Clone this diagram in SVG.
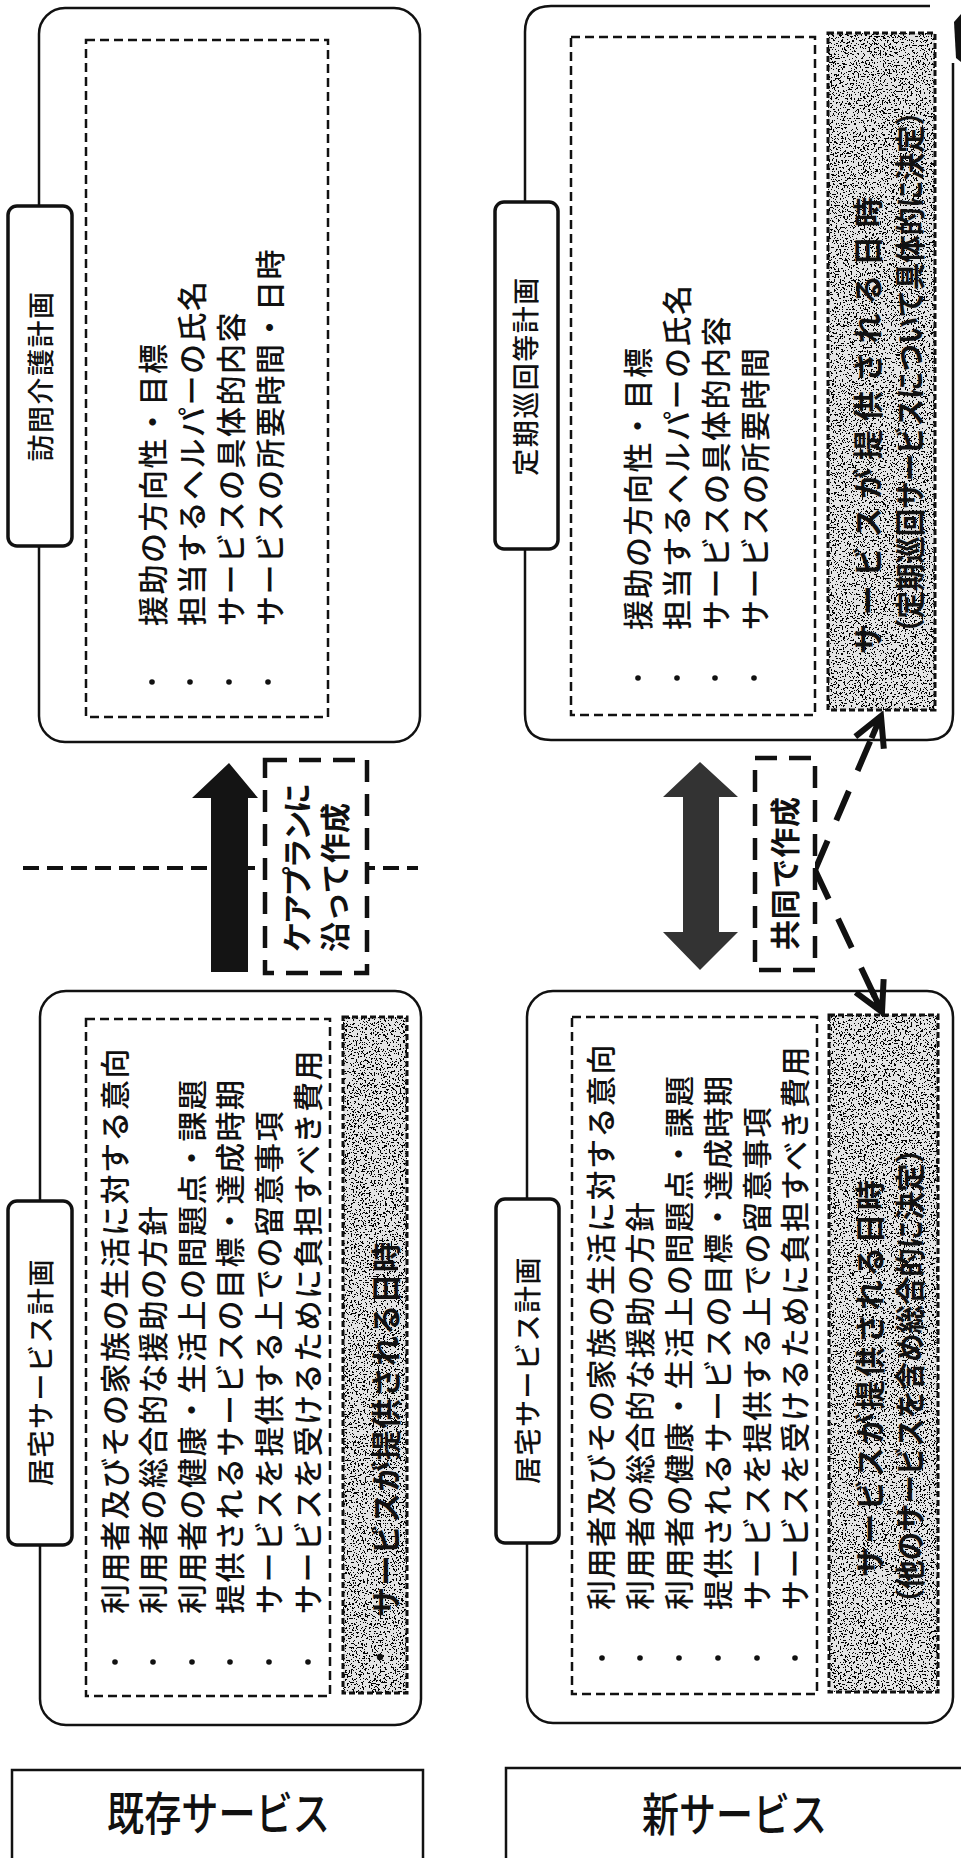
<svg xmlns="http://www.w3.org/2000/svg" width="961" height="1858" viewBox="0 0 961 1858">
<defs>
<style>
.box{fill:#fff;stroke:#111;stroke-width:2.5}
.tab{fill:#fff;stroke:#111;stroke-width:3.5}
.inner{fill:none;stroke:#111;stroke-width:2.5;stroke-dasharray:9 5}
.shf{fill:#e4e4e4}
.shl{fill:none;stroke:#111;stroke-width:3;stroke-dasharray:6 3}
.t{font-family:"Liberation Sans","Noto Sans CJK JP",sans-serif;font-size:30px;font-weight:500;fill:#111;dominant-baseline:central;letter-spacing:1.5px}
.tabt{font-size:27px;text-anchor:middle;letter-spacing:1.5px}
.b{font-weight:bold;letter-spacing:0}
.bul{fill:#111}
.lbl{font-family:"Liberation Sans","Noto Sans CJK JP",sans-serif;font-size:46px;font-weight:500;fill:#111;dominant-baseline:central}
.lblbox{fill:#fff;stroke:#111;stroke-width:2.5}
.note{fill:#fff;stroke:#111;stroke-width:4.5;stroke-dasharray:22 12}
.conn{fill:none;stroke:#111;stroke-width:6;stroke-dasharray:32 22}
.divider{fill:none;stroke:#111;stroke-width:4;stroke-dasharray:16 8}
</style>
<filter id="grain" x="0" y="0" width="1" height="1" color-interpolation-filters="sRGB">
<feTurbulence type="fractalNoise" baseFrequency="0.55" numOctaves="2" seed="7" result="n"/>
<feColorMatrix in="n" type="matrix" values="0 0 0 0 0  0 0 0 0 0  0 0 0 0 0  1 0 0 0 0" result="r"/>
<feComponentTransfer in="r" result="d"><feFuncA type="discrete" tableValues="0 0 0 0 0 0 0 0 0 0 0 0 1 1 1 1 1 1 1 1"/></feComponentTransfer>
<feComposite in="d" in2="SourceGraphic" operator="over"/>
</filter>
<marker id="chev" markerUnits="userSpaceOnUse" orient="auto" markerWidth="50" markerHeight="50" viewBox="-40 -25 50 50" refX="0" refY="0" overflow="visible">
<path d="M-29,-15.5 L0,0 L-29,15.5 M-24,0 L0,0" fill="none" stroke="#111" stroke-width="6"/>
</marker>
</defs>

<g id="visit-care-plan">
<rect class="box" x="39" y="8" width="381" height="734" rx="26"/>
<rect class="inner" x="86" y="40" width="242" height="677"/>
<rect class="tab" x="8" y="206" width="64" height="340" rx="9"/>
<text class="t tabt" transform="translate(42,376) rotate(-90)">訪問介護計画</text>
<text class="t" transform="translate(153,626) rotate(-90)">援助の方向性・目標</text>
<text class="t" transform="translate(192,626) rotate(-90)">担当するヘルパーの氏名</text>
<text class="t" transform="translate(231,626) rotate(-90)">サービスの具体的内容</text>
<text class="t" transform="translate(270,626) rotate(-90)">サービスの所要時間・日時</text>
<circle class="bul" cx="152" cy="682" r="2.8"/>
<circle class="bul" cx="190" cy="682" r="2.8"/>
<circle class="bul" cx="229" cy="682" r="2.8"/>
<circle class="bul" cx="268" cy="682" r="2.8"/>
</g>

<g id="regular-visit-plan">
<path class="box" d="M953,63 L953,714 Q953,740 927,740 L551,740 Q525,740 525,714 L525,32 Q525,6 551,6 L930,6"/>
<rect class="inner" x="571" y="37" width="244" height="678"/>
<rect class="shf" x="828" y="33" width="107" height="677" filter="url(#grain)"/>
<rect class="shl" x="828" y="33" width="107" height="677"/>
<rect class="tab" x="495" y="202" width="63" height="347" rx="9"/>
<text class="t tabt" transform="translate(527,376) rotate(-90)">定期巡回等計画</text>
<text class="t" transform="translate(638,630) rotate(-90)">援助の方向性・目標</text>
<text class="t" transform="translate(677,630) rotate(-90)">担当するヘルパーの氏名</text>
<text class="t" transform="translate(716,630) rotate(-90)">サービスの具体的内容</text>
<text class="t" transform="translate(755,630) rotate(-90)">サービスの所要時間</text>
<circle class="bul" cx="638" cy="678" r="2.8"/>
<circle class="bul" cx="677" cy="678" r="2.8"/>
<circle class="bul" cx="715" cy="678" r="2.8"/>
<circle class="bul" cx="754" cy="678" r="2.8"/>
<text class="t b" transform="translate(868,654) rotate(-90)" textLength="457" lengthAdjust="spacing">サービスが提供される日時</text>
<text class="t b" transform="translate(910,646) rotate(-90)" textLength="548" lengthAdjust="spacingAndGlyphs">（定期巡回サービスについて具体的に決定）</text>
<path d="M954,22 L961,14 L961,62 L956,58 Z" fill="#111"/>
</g>

<g id="care-plan-existing">
<rect class="box" x="40" y="991" width="381" height="734" rx="26"/>
<rect class="inner" x="86" y="1019" width="244" height="677"/>
<rect class="shf" x="343" y="1017" width="64" height="676" filter="url(#grain)"/>
<rect class="shl" x="343" y="1017" width="64" height="676"/>
<rect class="tab" x="8" y="1201" width="64" height="344" rx="9"/>
<text class="t tabt" transform="translate(42,1372) rotate(-90)">居宅サービス計画</text>
<text class="t" transform="translate(115,1614) rotate(-90)">利用者及びその家族の生活に対する意向</text>
<text class="t" transform="translate(153,1614) rotate(-90)">利用者の総合的な援助の方針</text>
<text class="t" transform="translate(192,1614) rotate(-90)">利用者の健康・生活上の問題点・課題</text>
<text class="t" transform="translate(230,1614) rotate(-90)">提供されるサービスの目標・達成時期</text>
<text class="t" transform="translate(269,1614) rotate(-90)">サービスを提供する上での留意事項</text>
<text class="t" transform="translate(308,1614) rotate(-90)">サービスを受けるために負担すべき費用</text>
<circle class="bul" cx="115" cy="1662" r="2.8"/>
<circle class="bul" cx="153" cy="1662" r="2.8"/>
<circle class="bul" cx="192" cy="1662" r="2.8"/>
<circle class="bul" cx="230" cy="1662" r="2.8"/>
<circle class="bul" cx="269" cy="1662" r="2.8"/>
<circle class="bul" cx="308" cy="1662" r="2.8"/>
<circle class="bul" cx="380" cy="1657" r="3.2"/>
<text class="t b" transform="translate(386,1617) rotate(-90)" textLength="375" lengthAdjust="spacing">サービスが提供される日時</text>
</g>

<g id="care-plan-new">
<rect class="box" x="527" y="991" width="426" height="732" rx="26"/>
<rect class="inner" x="572" y="1017" width="245" height="677"/>
<rect class="shf" x="829" y="1015" width="109" height="677" filter="url(#grain)"/>
<rect class="shl" x="829" y="1015" width="109" height="677"/>
<rect class="tab" x="496" y="1199" width="63" height="344" rx="9"/>
<text class="t tabt" transform="translate(529,1370) rotate(-90)">居宅サービス計画</text>
<text class="t" transform="translate(601,1610) rotate(-90)">利用者及びその家族の生活に対する意向</text>
<text class="t" transform="translate(640,1610) rotate(-90)">利用者の総合的な援助の方針</text>
<text class="t" transform="translate(679,1610) rotate(-90)">利用者の健康・生活上の問題点・課題</text>
<text class="t" transform="translate(718,1610) rotate(-90)">提供されるサービスの目標・達成時期</text>
<text class="t" transform="translate(757,1610) rotate(-90)">サービスを提供する上での留意事項</text>
<text class="t" transform="translate(795,1610) rotate(-90)">サービスを受けるために負担すべき費用</text>
<circle class="bul" cx="602" cy="1658" r="2.8"/>
<circle class="bul" cx="640" cy="1658" r="2.8"/>
<circle class="bul" cx="679" cy="1658" r="2.8"/>
<circle class="bul" cx="718" cy="1658" r="2.8"/>
<circle class="bul" cx="757" cy="1658" r="2.8"/>
<circle class="bul" cx="795" cy="1658" r="2.8"/>
<text class="t b" transform="translate(870,1577) rotate(-90)" textLength="397" lengthAdjust="spacing">サービスが提供される日時</text>
<text class="t b" transform="translate(910,1617) rotate(-90)" textLength="482" lengthAdjust="spacingAndGlyphs">（他のサービスを含め総合的に決定）</text>
</g>

<g id="connectors">
<line class="divider" x1="23" y1="868" x2="418" y2="868"/>
<polygon points="229,763 258,798 248,798 248,972 211,972 211,798 192,798" fill="#141414"/>
<polygon points="700,762 738,797 719,797 719,932 738,932 700,970 663,932 683,932 683,797 663,797" fill="#333"/>
<path class="conn" d="M815,870 L881,716" marker-end="url(#chev)"/>
<path class="conn" d="M815,870 L882,1012" marker-end="url(#chev)"/>
</g>

<g id="note-careplan">
<rect class="note" x="265" y="760" width="102" height="213"/>
<text class="t b" transform="translate(297,952) rotate(-90)" font-size="28" textLength="169" lengthAdjust="spacing">ケアプランに</text>
<text class="t b" transform="translate(335,952) rotate(-90)" font-size="28" textLength="149" lengthAdjust="spacing">沿って作成</text>
</g>

<g id="note-joint">
<rect class="note" x="755" y="758" width="60" height="212"/>
<text class="t b" transform="translate(785,950) rotate(-90)" textLength="153" lengthAdjust="spacing">共同で作成</text>
</g>

<g id="label-existing">
<rect class="lblbox" x="12" y="1770" width="411" height="100"/>
<text class="lbl" x="107" y="1814" textLength="223" lengthAdjust="spacingAndGlyphs">既存サービス</text>
</g>

<g id="label-new">
<rect class="lblbox" x="506" y="1768" width="460" height="100"/>
<text class="lbl" x="642" y="1815" textLength="185" lengthAdjust="spacingAndGlyphs">新サービス</text>
</g>
</svg>
